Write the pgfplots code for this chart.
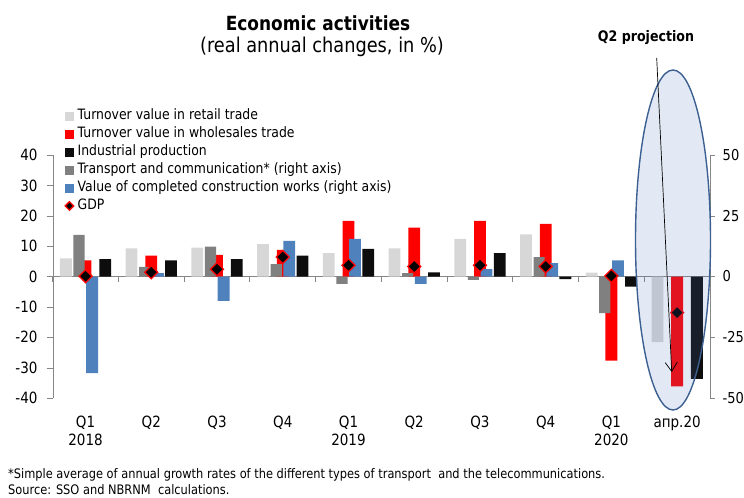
\documentclass[border=0pt]{standalone}
\usepackage{fontspec}
\setmainfont{DejaVu Sans}[FakeStretch=0.87]
\usepackage{pgfplots}
\pgfplotsset{compat=1.18}
\usetikzlibrary{arrows.meta}
\definecolor{retail}{RGB}{215,215,215}
\definecolor{wholesale}{RGB}{255,0,0}
\definecolor{industry}{RGB}{13,13,13}
\definecolor{transport}{RGB}{128,128,128}
\definecolor{constr}{RGB}{79,129,189}
\definecolor{axgray}{RGB}{134,134,134}
\definecolor{ellfill}{RGB}{88,124,188}
\definecolor{elledge}{RGB}{60,96,145}

\pgfplotsset{
  frame/.style={at={(52.7bp,-398bp)}, anchor=south west, scale only axis,
    width=657.3bp, height=243bp, xmin=-0.5, xmax=9.5, clip=false},
  barleg/.style={legend image code/.code={\fill[#1] (0bp,-4bp) rectangle (8bp,4bp);}},
  gdpleg/.style={legend image code/.code={\draw[##1, mark size=3bp] plot coordinates {(4bp,0bp)};}},
}

\begin{document}
\begin{tikzpicture}
\path[use as bounding box] (0,0) rectangle (744bp,-498bp);

% left axis: retail, wholesale, industrial
\begin{axis}[frame, ymin=-40, ymax=40,
  axis y line*=left, axis x line*=bottom, x axis line style={draw=none},
  y axis line style={axgray}, ytick style={axgray}, xtick style={draw=none},
  tick align=outside, major tick length=6bp,
  ytick={-40,-30,...,40}, yticklabels={-40,-30,-20,-10,0,10,20,30,40},
  yticklabel style={font=\fontsize{15.5bp}{18bp}\selectfont, inner sep=0pt, xshift=-9bp},
  xtick={0,...,9},
  xticklabels={{Q1\\2018},Q2,Q3,Q4,{Q1\\2019},Q2,Q3,Q4,{Q1\\2020},апр.20},
  xticklabel style={font=\fontsize{15.5bp}{18bp}\selectfont, align=center, inner sep=0pt, yshift=-12bp},
]
\draw[axgray, line width=0.8bp] (axis cs:-0.5,0) -- (axis cs:9.5,0);
\pgfplotsinvokeforeach{-0.5,0.5,1.5,2.5,3.5,4.5,5.5,6.5,7.5,8.5,9.5}{
  \draw[axgray, line width=0.8bp] (axis cs:#1,0) -- ++(0bp,-5bp);
}
\addplot[ybar, bar width=0.18, bar shift=-0.3, fill=retail, draw=none] coordinates
  {(0,6.0) (1,9.3) (2,9.5) (3,10.7) (4,7.7) (5,9.3) (6,12.4) (7,13.9) (8,1.3) (9,-21.6)};
\addplot[ybar, bar width=0.18, bar shift=0, fill=wholesale, draw=none] coordinates
  {(0,5.3) (1,6.9) (2,7.1) (3,8.8) (4,18.3) (5,16.1) (6,18.3) (7,17.3) (8,-27.7) (9,-36.2)};
\addplot[ybar, bar width=0.18, bar shift=0.3, fill=industry, draw=none] coordinates
  {(0,5.7) (1,5.3) (2,5.7) (3,6.9) (4,9.1) (5,1.4) (6,7.7) (7,-0.9) (8,-3.3) (9,-33.7)};
\end{axis}

% right axis: transport, construction
\begin{axis}[frame, ymin=-50, ymax=50,
  axis y line*=right, axis x line=none,
  y axis line style={axgray}, ytick style={axgray},
  tick align=outside, major tick length=4.5bp,
  ytick={-50,-25,0,25,50}, yticklabels={-50,-25,0,25,50},
  yticklabel style={font=\fontsize{15bp}{18bp}\selectfont, anchor=west, inner sep=0pt, xshift=8bp},
]
\addplot[ybar, bar width=0.17, bar shift=-0.1, fill=transport, draw=none] coordinates
  {(0,17.1) (1,4.0) (2,12.3) (3,5.1) (4,-3.0) (5,1.4) (6,-1.4) (7,8.0) (8,-15.1)};
\addplot[ybar, bar width=0.18, bar shift=0.1, fill=constr, draw=none] coordinates
  {(0,-39.8) (1,1.4) (2,-10.0) (3,14.7) (4,15.5) (5,-3.0) (6,3.0) (7,5.5) (8,6.6)};
\end{axis}

% GDP and legend
\begin{axis}[frame, ymin=-40, ymax=40, hide axis,
  legend cell align=left,
  legend style={at={(axis description cs:0.0187,1.19)}, anchor=north west,
    draw=none, fill=none, inner sep=0pt, row sep=4.2bp, column sep=4bp,
    font=\fontsize{14.3bp}{16bp}\selectfont,
    nodes={inner sep=0pt, text height=10.6bp, text depth=3.2bp}},
]
\addlegendimage{barleg=retail}
\addlegendimage{barleg=wholesale}
\addlegendimage{barleg=industry}
\addlegendimage{barleg=transport}
\addlegendimage{barleg=constr}
\addplot[only marks, mark=square*, mark size=4.6bp,
  mark options={rotate=45, fill=black, draw=red, line width=1.3bp}, gdpleg]
  coordinates {(0,0.1) (1,1.4) (2,2.4) (3,6.4) (4,3.7) (5,3.3) (6,3.7) (7,3.3) (8,0.2) (9,-11.9)};
\legend{Turnover value in retail trade, Turnover value in wholesales trade,
  Industrial production, Transport and communication* (right axis),
  Value of completed construction works (right axis), GDP}
\end{axis}

% projection highlight
\fill[ellfill, fill opacity=0.17] (673bp,-240bp) ellipse [x radius=37.5bp, y radius=170bp];
\draw[elledge, line width=1.4bp] (673bp,-240bp) ellipse [x radius=37.5bp, y radius=170bp];
\draw[line width=0.7bp, -{Straight Barb[length=9bp, width=12bp]}] (656.7bp,-58bp) -- (671.7bp,-372bp);
\node[font=\bfseries\fontsize{14.5bp}{16bp}\selectfont, anchor=base] at (646bp,-41bp) {Q2 projection};

% titles and notes
\node[font=\bfseries\fontsize{19.5bp}{22bp}\selectfont, anchor=base] at (318bp,-30bp) {Economic activities};
\node[font=\fontsize{20.4bp}{22bp}\selectfont, anchor=base] at (322bp,-52bp) {(real annual changes, in \%)};
\node[font=\fontsize{13.1bp}{15bp}\selectfont, anchor=base west, inner sep=0pt] at (8bp,-478bp)
  {*Simple average of annual growth rates of the different types of transport\ \ and the telecommunications.};
\node[font=\fontsize{13.1bp}{15bp}\selectfont, anchor=base west, inner sep=0pt] at (8bp,-494bp)
  {Source: SSO and NBRNM\ \ calculations.};
\end{tikzpicture}
\end{document}
